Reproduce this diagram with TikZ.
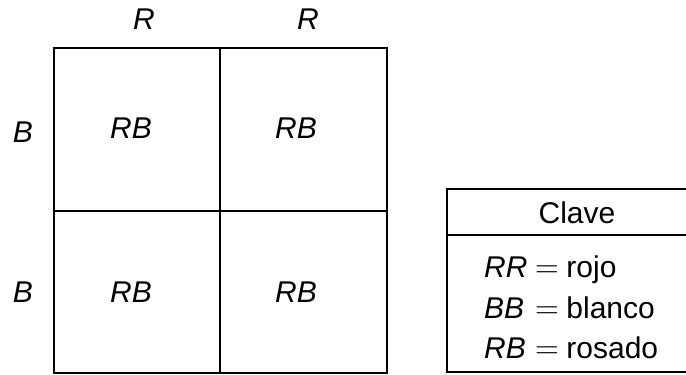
\documentclass[tikz,border=0pt]{standalone}
\usepackage{fontspec}
\setmainfont{Liberation Sans}
\newfontfamily\eqfont{Latin Modern Roman}
% genotype, a wide equals sign, then the colour name
\newcommand{\keyentry}[2]{\makebox[51pt][l]{\itshape #1}{\fontsize{33}{34}\selectfont\eqfont =}\hspace{7.5pt}#2}
\begin{document}
\begin{tikzpicture}[x=1pt,y=-1pt,
  grid/.style={line width=2pt, line cap=rect},
  allele/.style={font=\fontsize{30}{34}\selectfont\itshape, inner sep=0pt, anchor=center},
  keytext/.style={font=\fontsize{30}{34}\selectfont, inner sep=0pt},
  keyline/.style={keytext, anchor=base west}]
  \clip (0,0) rectangle (686,375);

  % Punnett square
  \draw[grid] (53.5,48) rectangle (386.5,373);
  \draw[grid] (220,48) -- (220,373);
  \draw[grid] (53.5,211) -- (386.5,211);

  % parental alleles
  \node[allele] (r1) at (144,19) {R};
  \node[allele] (r2) at (308,19) {R};
  \node[allele] (b1) at (23,132) {B};
  \node[allele] (b2) at (23,292) {B};

  % offspring genotypes
  \node[allele] (c11) at (131,128) {RB};
  \node[allele] (c12) at (296,128) {RB};
  \node[allele] (c21) at (131,292) {RB};
  \node[allele] (c22) at (296,292) {RB};

  % key box, running off the right edge
  \draw[grid] (700,188.5) -- (446.5,188.5) -- (446.5,372) -- (700,372);
  \draw[grid] (446.5,235) -- (700,235);
  \node[keytext, anchor=center] (clave) at (577,213) {Clave};
  \node[keyline] (k1) at (484,277) {\keyentry{RR}{rojo}};
  \node[keyline] (k2) at (484,318) {\keyentry{BB}{blanco}};
  \node[keyline] (k3) at (484,358) {\keyentry{RB}{rosado}};
\end{tikzpicture}
\end{document}
